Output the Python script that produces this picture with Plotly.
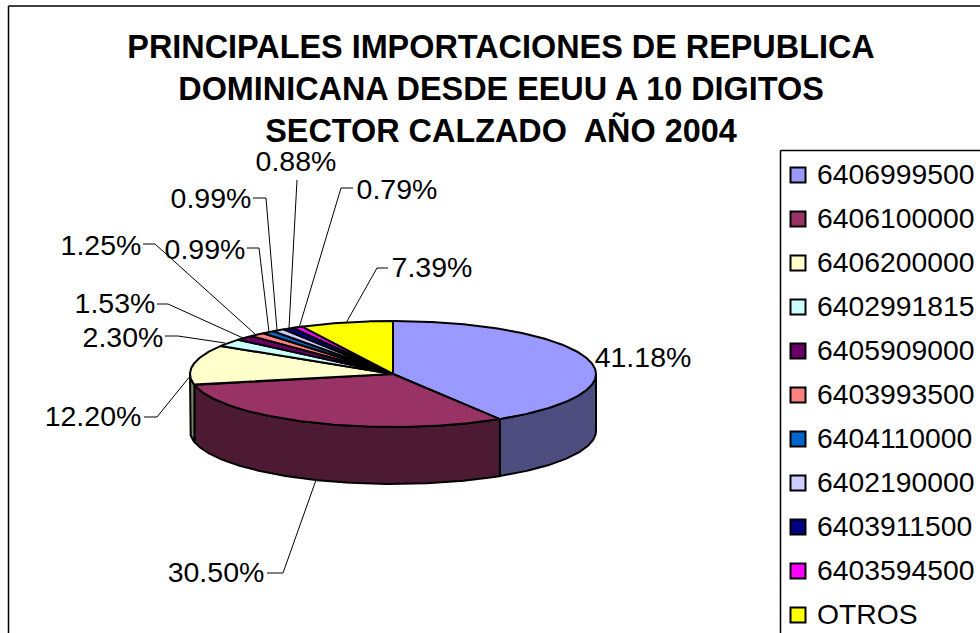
import numpy as np
import plotly.graph_objects as go

codes = ["6406999500", "6406100000", "6406200000", "6402991815", "6405909000", "6403993500",
         "6404110000", "6402190000", "6403911500", "6403594500", "OTROS"]
shares = [41.18, 30.50, 12.20, 2.30, 1.53, 1.25, 0.99, 0.99, 0.88, 0.79, 7.39]
top_colors = ["#9999FF", "#993366", "#FFFFCC", "#CCFFFF", "#660066", "#FF8080",
              "#0066CC", "#CCCCFF", "#000080", "#FF00FF", "#FFFF00"]
side_colors = ["#4D4D80", "#4D1A33", "#808066", "#668080", "#330033", "#804040",
               "#003366", "#666680", "#000040", "#800080", "#808000"]
title_text = ("<b>PRINCIPALES IMPORTACIONES DE REPUBLICA<br>DOMINICANA DESDE EEUU A 10 DIGITOS<br>"
              "SECTOR CALZADO\u00a0 AÑO 2004</b>")

# Layout in page pixels
CX, CY, RX, RY, DEPTH = 393, 374, 203, 53, 57
FONT = "Liberation Sans, Arial, sans-serif"
label_xy = [(643, 360), (216, 575), (93, 419), (123, 340), (115, 306), (101, 248),
            (205, 252), (211, 201), (296, 164), (397, 192), (432, 270)]
leaders = [None,
           [(267, 573), (283, 573), (316, 480)],
           [(144, 417), (157, 417), (191, 375)],
           [(165, 336), (178, 336), (225, 343)],
           [(157, 304), (168, 304), (243, 338)],
           [(143, 244), (155, 244), (255, 334)],
           [(247, 248), (259, 248), (269, 332)],
           [(253, 198), (266, 198), (277, 330)],
           [(297, 180), (289, 328)],
           [(353, 188), (341, 188), (299, 328)],
           [(388, 268), (377, 268), (346, 323)]]
LEG_SWATCH_X, LEG_TEXT_X, LEG_Y0, LEG_STEP, LEG_TEXT_DY = 798, 817, 175, 44, 2


def rim(a0, a1, dy=0.0):
    t = np.radians(np.linspace(a0, a1, max(2, int(abs(a1 - a0)) * 2 + 2)))
    return CX + RX * np.sin(t), CY + dy - RY * np.cos(t)


fig = go.Figure()
edges = np.concatenate([[0], np.cumsum(shares)]) / sum(shares) * 360

# Side walls (only the front half of the disc shows)
for i in range(len(shares)):
    a0, a1 = max(edges[i], 90), min(edges[i + 1], 270)
    if a1 <= a0:
        continue
    x0, y0 = rim(a0, a1)
    x1, y1 = rim(a1, a0, DEPTH)
    fig.add_trace(go.Scatter(x=np.r_[x0, x1, x0[0]], y=np.r_[y0, y1, y0[0]], mode="lines",
                             fill="toself", fillcolor=side_colors[i],
                             line=dict(color="black", width=2), showlegend=False, hoverinfo="skip"))

# Top faces
for i in range(len(shares)):
    xs, ys = rim(edges[i], edges[i + 1])
    fig.add_trace(go.Scatter(x=np.r_[CX, xs, CX], y=np.r_[CY, ys, CY], mode="lines",
                             fill="toself", fillcolor=top_colors[i], name=codes[i],
                             line=dict(color="black", width=2), showlegend=False,
                             hovertemplate=f"{codes[i]}: {shares[i]:.2f}%<extra></extra>"))

# Leader lines
for pts in leaders:
    if pts:
        fig.add_trace(go.Scatter(x=[p[0] for p in pts], y=[p[1] for p in pts], mode="lines",
                                 line=dict(color="black", width=1), showlegend=False, hoverinfo="skip"))

# Data labels
fig.add_trace(go.Scatter(x=[p[0] for p in label_xy], y=[p[1] for p in label_xy], mode="text",
                         text=[f"{v:.2f}%" for v in shares], textposition="middle center",
                         textfont=dict(family=FONT, size=28.5, color="black"),
                         showlegend=False, hoverinfo="skip"))

# Legend box contents
leg_y = [LEG_Y0 + LEG_STEP * i for i in range(len(codes))]
fig.add_trace(go.Scatter(x=[LEG_SWATCH_X] * len(codes), y=leg_y, mode="markers",
                         marker=dict(symbol="square", size=15, color=top_colors,
                                     line=dict(color="black", width=2)),
                         showlegend=False, hoverinfo="skip"))
fig.add_trace(go.Scatter(x=[LEG_TEXT_X] * len(codes), y=[v + LEG_TEXT_DY for v in leg_y], mode="text", text=codes,
                         textposition="middle right",
                         textfont=dict(family=FONT, size=28.3, color="black"),
                         showlegend=False, hoverinfo="skip"))

frame = dict(color="black", width=1.5)
shapes = [
    dict(type="line", x0=8.5, x1=8.5, y0=6, y1=633, line=frame),
    dict(type="line", x0=8.5, x1=980, y0=6, y1=6, line=frame),
    dict(type="line", x0=780.5, x1=780.5, y0=150.5, y1=633, line=frame),
    dict(type="line", x0=780.5, x1=980, y0=150.5, y1=150.5, line=frame),
]
fig.update_layout(
    width=980, height=633, margin=dict(l=0, r=0, t=0, b=0),
    paper_bgcolor="white", plot_bgcolor="white", showlegend=False,
    title=dict(text=title_text, x=501 / 980, xanchor="center", y=1 - 58 / 633, yanchor="top",
               font=dict(family=FONT, size=32.4, color="black")),
    xaxis=dict(range=[0, 980], visible=False, fixedrange=True),
    yaxis=dict(range=[633, 0], visible=False, fixedrange=True),
    shapes=shapes,
)
fig.write_html("out.html", config={"displayModeBar": False},
               post_script="document.body.style.margin='0';document.body.style.overflow='hidden';")
